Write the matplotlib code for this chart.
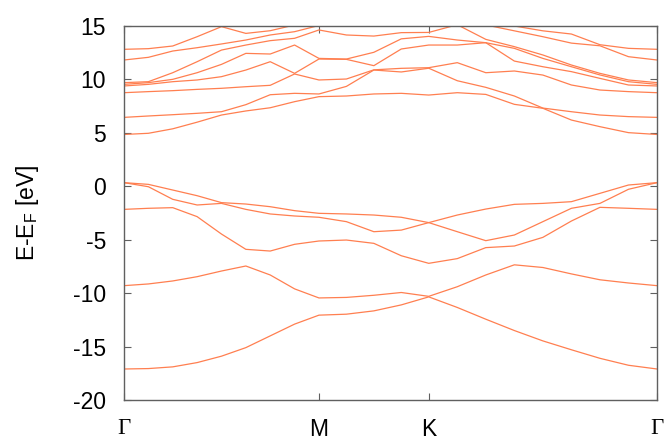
import numpy as np
import matplotlib.pyplot as plt

plt.rcParams['font.family'] = ['Liberation Sans', 'DejaVu Sans']
plt.rcParams['mathtext.default'] = 'regular'
plt.rcParams['axes.unicode_minus'] = False

# k-path G-M-K-G, relative segment lengths and number of steps per segment
k_labels = ['Γ', 'M', 'K', 'Γ']
seg_len = [0.854, 0.481, 1.0]
seg_pts = [8, 4, 8]

# valence bands (eV)
v1 = [-17.1, -17.06, -16.9, -16.5, -15.9, -15.1, -14.0, -12.9, -12.06, -11.97, -11.66,
      -11.1, -10.35, -11.34, -12.44, -13.5, -14.47, -15.3, -16.1, -16.75, -17.1]
v2 = [-9.3, -9.14, -8.86, -8.46, -7.93, -7.46, -8.3, -9.6, -10.45, -10.4, -10.2,
      -9.94, -10.3, -9.4, -8.3, -7.35, -7.6, -8.2, -8.75, -9.05, -9.3]
v3 = [-2.16, -2.06, -2.0, -2.84, -4.47, -5.9, -6.06, -5.43, -5.12, -5.03, -5.34,
      -6.5, -7.21, -6.77, -5.74, -5.59, -4.78, -3.25, -1.97, -2.06, -2.16]
v4 = [0.34, 0.18, -0.35, -0.88, -1.53, -2.16, -2.59, -2.78, -2.9, -3.31, -4.25,
      -4.1, -3.4, -2.69, -2.13, -1.69, -1.6, -1.44, -0.66, 0.12, 0.34]
v5 = [0.34, -0.04, -1.22, -1.75, -1.6, -1.66, -1.91, -2.28, -2.53, -2.59, -2.69,
      -2.9, -3.4, -4.25, -5.09, -4.56, -3.31, -2.06, -1.6, -0.28, 0.34]

# conduction bands (eV)
c1 = [4.85, 4.96, 5.38, 6.0, 6.67, 7.05, 7.35, 7.92, 8.39, 8.45, 8.64,
      8.7, 8.54, 8.76, 8.6, 7.67, 7.3, 6.2, 5.58, 5.02, 4.85]
c2 = [6.45, 6.58, 6.7, 6.83, 6.98, 7.64, 8.57, 8.7, 8.64, 9.35, 10.88,
      10.7, 11.05, 9.88, 9.26, 8.45, 7.32, 6.98, 6.67, 6.52, 6.45]
c3 = [8.76, 8.86, 8.95, 9.07, 9.17, 9.32, 9.45, 10.51, 9.95, 10.04, 10.9,
      11.04, 11.1, 11.57, 10.63, 10.79, 10.41, 9.48, 9.01, 8.86, 8.76]
c4 = [9.39, 9.54, 9.79, 9.95, 10.26, 10.88, 11.66, 10.57, 11.91, 11.88, 11.29,
      12.85, 13.22, 13.22, 13.44, 11.72, 11.19, 10.73, 10.1, 9.48, 9.39]
c5 = [9.54, 9.7, 10.01, 10.63, 11.41, 12.44, 12.38, 13.22, 11.97, 11.91, 12.54,
      13.8, 14.03, 13.69, 13.44, 12.91, 11.97, 11.19, 10.42, 9.79, 9.54]
c6 = [9.7, 9.79, 10.63, 11.66, 12.75, 13.22, 13.63, 13.85, 14.63, 14.16, 14.06,
      14.38, 14.4, 15.12, 13.75, 13.07, 12.29, 11.35, 10.57, 9.95, 9.7]
c7 = [11.82, 12.07, 12.66, 12.97, 13.32, 13.69, 14.16, 14.47, 15.05, 15.6, 15.8,
      15.9, 15.9, 15.18, 15.1, 14.55, 14.0, 13.4, 13.15, 12.13, 11.82]
c8 = [12.82, 12.88, 13.13, 14.0, 14.94, 14.31, 14.56, 15.1, 15.5, 16.0, 16.2,
      16.4, 16.4, 16.0, 15.6, 15.0, 14.55, 14.25, 13.25, 12.91, 12.82]

# k coordinates along the path
k = [0.0]
for L, n in zip(seg_len, seg_pts):
    k += list(k[-1] + L * np.arange(1, n + 1) / n)
k = np.array(k)
k_ticks = np.concatenate([[0], np.cumsum(seg_len)])

# bands ordered by energy at each k, as in the band output
bands = np.sort(np.array([v1, v2, v3, v4, v5, c1, c2, c3, c4, c5, c6, c7, c8]), axis=0)

fig = plt.figure(figsize=(6.66, 4.41), dpi=100)
ax = fig.add_axes([0.1862, 0.093, 0.8003, 0.848])

for b in bands:
    ax.plot(k, b, color='#ff7f50', lw=0.9)

ax.set_xlim(0, k_ticks[-1])
ax.set_ylim(-20, 15)
ax.set_yticks(range(-20, 16, 5))
ax.set_xticks(k_ticks)
ax.set_xticklabels(k_labels)
for lbl in ax.get_xticklabels():
    if lbl.get_text() == 'Γ':
        lbl.set_family(['Liberation Serif', 'DejaVu Serif'])
        lbl.set_fontsize(18)

ax.tick_params(direction='in', top=True, right=True, length=5, width=0.8,
               color='#606060', labelsize=16.5)
ax.tick_params(axis='y', pad=13)
ax.tick_params(axis='x', pad=13)
for s in ax.spines.values():
    s.set_color('#606060')
    s.set_linewidth(1.0)

ax.set_ylabel('E-E$_F$ [eV]', fontsize=16.5)
ax.yaxis.set_label_coords(-0.155, 0.5)

fig.savefig('out.png', dpi=100)
